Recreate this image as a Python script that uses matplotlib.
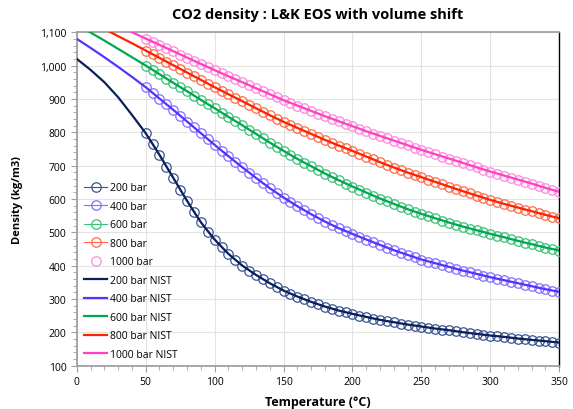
import numpy as np
import matplotlib.pyplot as plt
from matplotlib.ticker import MultipleLocator, FuncFormatter

# NIST reference lines, every 10 C from 0 to 350
T_nist = np.arange(0, 351, 10)
rho200_nist = [1020, 987, 950, 905, 852, 797, 732, 663, 594, 530, 478, 435, 400, 372, 347, 325,
               307, 291, 277, 265, 255, 246, 237, 230, 223, 217, 211, 206, 200, 195, 190, 186,
               181, 177, 173, 169]
rho400_nist = [1080, 1053, 1025, 996, 966, 935, 901, 867, 832, 797, 762, 728, 695, 663, 632, 604,
               578, 554, 532, 512, 495, 478, 462, 446, 432, 418, 407, 396, 385, 375, 365, 356,
               347, 338, 329, 321]
rho600_nist = [1123, 1099, 1075, 1050, 1025, 1000, 974, 948, 923, 897, 872, 846, 821, 795, 769, 744,
               720, 698, 676, 656, 637, 619, 601, 585, 569, 555, 542, 529, 517, 506, 495, 485,
               474, 464, 454, 445]
rho800_nist = [1152, 1131, 1110, 1088, 1067, 1045, 1023, 1001, 979, 957, 935, 914, 893, 872, 851, 831,
               813, 795, 777, 760, 744, 727, 710, 694, 679, 665, 651, 637, 623, 610, 597, 585,
               574, 563, 552, 542]
rho1000_nist = [1180, 1160, 1140, 1120, 1100, 1081, 1062, 1043, 1024, 1005, 986, 968, 950, 932, 914, 896,
                880, 864, 848, 833, 818, 803, 789, 775, 761, 747, 734, 721, 708, 695, 682, 670,
                658, 646, 633, 621]

# L&K EOS with volume shift, every 5 C from 50 to 350
T_eos = np.arange(50, 351, 5)
rho200_eos = [797, 766, 732, 697, 663, 628, 594, 560, 530, 502, 478, 455, 435, 417, 400, 385,
              372, 359, 347, 336, 325, 316, 307, 299, 291, 284, 277, 271, 265, 260, 255, 250,
              246, 241, 237, 233, 230, 226, 223, 220, 217, 214, 211, 208, 206, 203, 200, 198,
              195, 193, 190, 188, 186, 183, 181, 179, 177, 175, 173, 171, 169]
rho400_eos = [935, 918, 901, 884, 867, 850, 832, 815, 797, 779, 762, 745, 728, 711, 695, 679,
              663, 647, 632, 618, 604, 591, 578, 566, 554, 543, 532, 522, 512, 503, 495, 486,
              478, 470, 462, 454, 446, 439, 432, 425, 418, 412, 407, 401, 396, 390, 385, 380,
              375, 370, 365, 360, 356, 351, 347, 342, 338, 333, 329, 325, 321]
rho600_eos = [1000, 987, 974, 961, 948, 935, 923, 910, 897, 884, 872, 859, 846, 833, 821, 808,
              795, 782, 769, 756, 744, 732, 720, 709, 698, 687, 676, 666, 656, 646, 637, 628,
              619, 610, 601, 593, 585, 577, 569, 562, 555, 548, 542, 535, 529, 523, 517, 511,
              506, 500, 495, 490, 485, 479, 474, 469, 464, 459, 454, 450, 445]
rho800_eos = [1045, 1034, 1023, 1012, 1001, 990, 979, 968, 957, 946, 935, 925, 914, 904, 893, 883,
              872, 862, 851, 841, 831, 822, 813, 804, 795, 786, 777, 768, 760, 752, 744, 736,
              727, 719, 710, 702, 694, 686, 679, 672, 665, 658, 651, 644, 637, 630, 623, 617,
              610, 603, 597, 591, 585, 580, 574, 568, 563, 557, 552, 547, 542]
rho1000_eos = [1081, 1071, 1062, 1052, 1043, 1033, 1024, 1014, 1005, 995, 986, 977, 968, 959, 950, 941,
               932, 923, 914, 905, 896, 888, 880, 872, 864, 856, 848, 840, 833, 825, 818, 810,
               803, 796, 789, 782, 775, 768, 761, 754, 747, 740, 734, 727, 721, 714, 708, 701,
               695, 688, 682, 676, 670, 664, 658, 652, 646, 640, 633, 627, 621]

pressures = ['200 bar', '400 bar', '600 bar', '800 bar', '1000 bar']
eos_sets = [rho200_eos, rho400_eos, rho600_eos, rho800_eos, rho1000_eos]
nist_sets = [rho200_nist, rho400_nist, rho600_nist, rho800_nist, rho1000_nist]
eos_colors = ['#3A5590', '#8070FF', '#3CC07A', '#FF6A4A', '#FF88DD']
nist_colors = ['#0B1F5C', '#5533FF', '#00A850', '#FF2200', '#FF40C0']

plt.rcParams['font.family'] = ['Open Sans', 'DejaVu Sans']

fig = plt.figure(figsize=(5.73, 4.10), dpi=100)
ax = fig.add_axes([0.134, 0.106, 0.842, 0.813])

for lab, rho, c in zip(pressures, eos_sets, eos_colors):
    ls = 'none' if lab == '1000 bar' else '-'
    ax.plot(T_eos, rho, linestyle=ls, lw=0.8, color=c, marker='o', ms=6.8,
            mfc='none', mec=c, mew=0.9, label=lab, zorder=3)
for lab, rho, c in zip(pressures, nist_sets, nist_colors):
    ax.plot(T_nist, rho, '-', lw=1.6, color=c, label=lab + ' NIST', zorder=4)

ax.set_xlim(0, 350)
ax.set_ylim(100, 1100)
ax.xaxis.set_major_locator(MultipleLocator(50))
ax.xaxis.set_minor_locator(MultipleLocator(10))
ax.yaxis.set_major_locator(MultipleLocator(100))
ax.yaxis.set_minor_locator(MultipleLocator(20))
ax.yaxis.set_major_formatter(FuncFormatter(lambda v, p: f'{int(v):,}'))
ax.grid(True, which='major', color='#E3E3E3', lw=0.8)
ax.set_axisbelow(True)
ax.tick_params(which='both', direction='out', color='#A0A0A0', labelsize=7.5)
ax.tick_params(which='major', length=4)
ax.tick_params(which='minor', length=3)
for s in ['left', 'bottom', 'top']:
    ax.spines[s].set_color('#A0A0A0')
    ax.spines[s].set_linewidth(1.3)
ax.spines['right'].set_color('black')
ax.spines['right'].set_linewidth(1.0)

ax.set_title('CO2 density : L&K EOS with volume shift', fontsize=10.5, fontweight='bold', pad=10)
ax.set_xlabel('Temperature (°C)', fontsize=9, fontweight='bold', labelpad=6)
ax.set_ylabel('Density (kg/m3)', fontsize=8, fontweight='bold', labelpad=12)

ax.legend(loc='upper left', bbox_to_anchor=(0.0, 0.572), frameon=False, fontsize=7.5,
          handlelength=2.2, labelspacing=0.72, handletextpad=0.3, borderaxespad=0.3)

fig.savefig('out.png', dpi=100)
